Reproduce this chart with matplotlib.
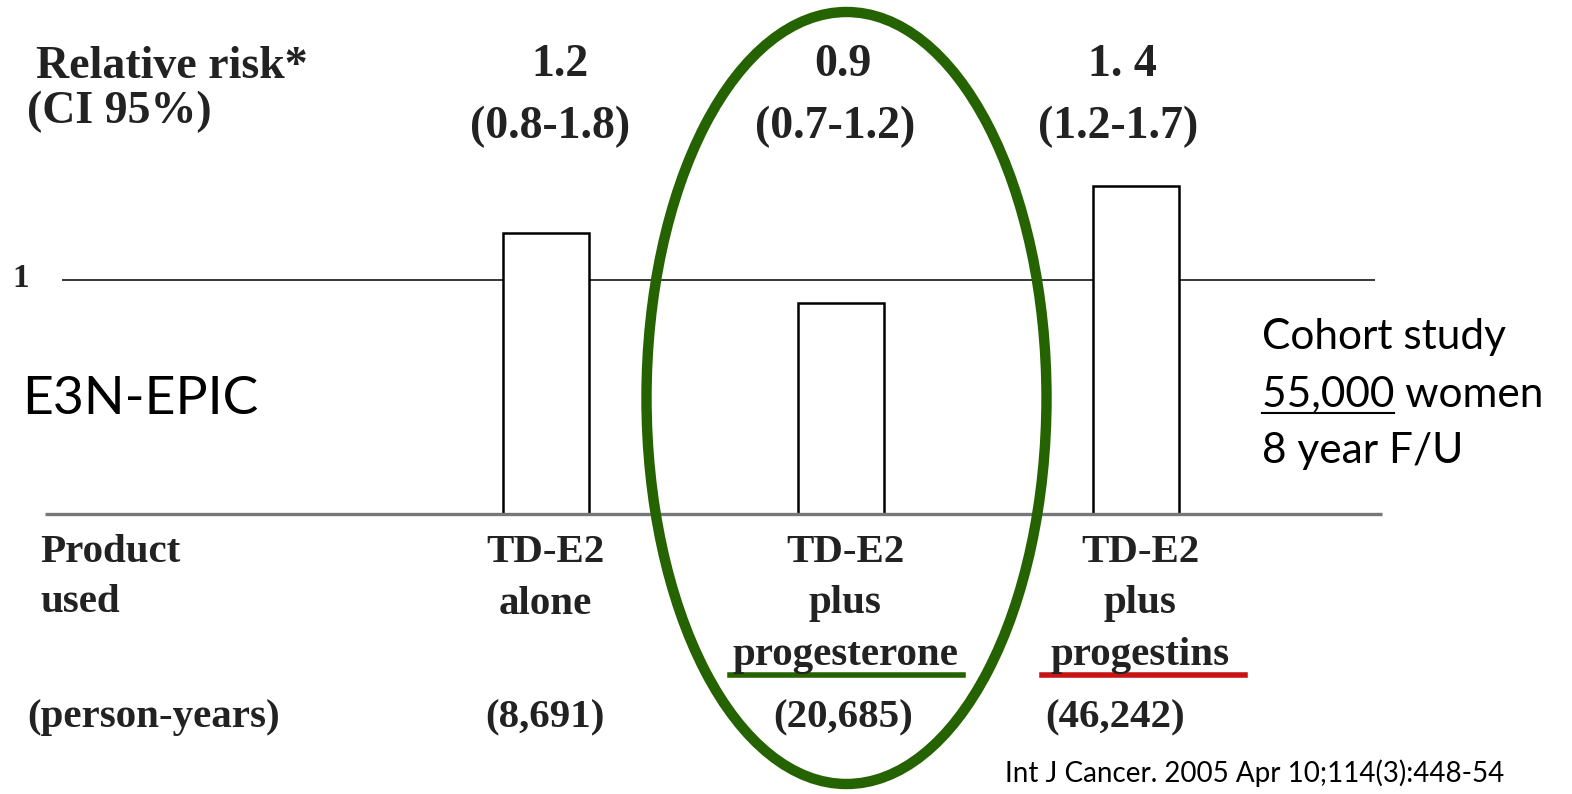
import matplotlib.pyplot as plt
from matplotlib.patches import Ellipse
import numpy as np

# data
products = ['TD-E2\nalone', 'TD-E2\nplus\nprogesterone', 'TD-E2\nplus\nprogestins']
rr = [1.2, 0.9, 1.4]
rr_text = ['1.2', '0.9', '1. 4']
ci_text = ['(0.8-1.8)', '(0.7-1.2)', '(1.2-1.7)']
person_years = ['(8,691)', '(20,685)', '(46,242)']

W, H = 1572, 794
fig = plt.figure(figsize=(W / 100, H / 100), dpi=100)
ax = fig.add_axes([0, 0, 1, 1])
ax.axis('off')

# bar centres at ~544 / 841 / 1134 px, baseline at 514 px, RR=1 at 280 px
xs = np.arange(len(rr))
ax.set_xlim(-546 / 295, (W - 546) / 295)
ax.set_ylim(-(H - 514) / 234, 514 / 234)

def px_x(p):
    return (p - 546) / 295

ax.bar(xs, rr, width=0.29, facecolor='white', edgecolor='black', linewidth=1.8, zorder=3)
ax.hlines(1, px_x(62), px_x(1375), color='black', linewidth=1.1, zorder=2)
ax.hlines(0, px_x(45), px_x(1382), color='#777777', linewidth=2.4, zorder=4)

serif = 'Liberation Serif'
sans = 'Lato'
dark = '#222222'

def ftext(x, y, s, **kw):
    fig.text(x / W, 1 - y / H, s, **kw)

ftext(36, 67, 'Relative risk*', family=serif, weight='bold', size=33, va='center', color=dark)
ftext(27, 112, '(CI 95%)', family=serif, weight='bold', size=33, va='center', color=dark)
ftext(12, 278, '1', family=serif, weight='bold', size=24, va='center', color=dark)

hdr_x = [560, 843, 1122]
ci_x = [550, 835, 1118]
for i in range(3):
    ftext(hdr_x[i], 65, rr_text[i], family=serif, weight='bold', size=33, ha='center', va='center', color=dark)
    ftext(ci_x[i], 127, ci_text[i], family=serif, weight='bold', size=33, ha='center', va='center', color=dark)

# product labels under the bars
lab_x = [545, 845, 1140]
for i, lab in enumerate(products):
    for j, line in enumerate(lab.split('\n')):
        ftext(lab_x[i], 553 + 51 * j, line, family=serif, weight='bold', size=29.5,
              ha='center', va='center', color=dark)

ftext(40, 553, 'Product', family=serif, weight='bold', size=29.5, va='center', color=dark)
ftext(40, 603, 'used', family=serif, weight='bold', size=29.5, va='center', color=dark)
ftext(27, 718, '(person-years)', family=serif, weight='bold', size=29.5, va='center', color=dark)

py_x = [545, 843, 1115]
for i in range(3):
    ftext(py_x[i], 718, person_years[i], family=serif, weight='bold', size=29.5, ha='center', va='center', color=dark)

# underlines
fig.add_artist(plt.Line2D([730 / W, 963 / W], [1 - 675 / H] * 2, color='#256300', linewidth=4))
fig.add_artist(plt.Line2D([1042 / W, 1245 / W], [1 - 675 / H] * 2, color='#c81414', linewidth=4))

# green ellipse
fig.add_artist(Ellipse((846.5 / W, 1 - 398 / H), 400 / W, 772 / H, transform=fig.transFigure,
                       fill=False, edgecolor='#256300', linewidth=7.5, zorder=10))

ftext(22, 400, 'E3N-EPIC', family=sans, size=38.5, va='center')
ftext(1262, 337, 'Cohort study', family=sans, size=30.5, va='center')
ftext(1262, 394, '55,000 women', family=sans, size=30.5, va='center')
ftext(1262, 451, '8 year F/U', family=sans, size=30.5, va='center')
fig.add_artist(plt.Line2D([1262 / W, 1394 / W], [1 - 413 / H] * 2, color='black', linewidth=1.5))

ftext(1005, 773, 'Int J Cancer. 2005 Apr 10;114(3):448-54', family=sans, size=20, va='center')

fig.savefig('out.png', dpi=100, facecolor='white')
